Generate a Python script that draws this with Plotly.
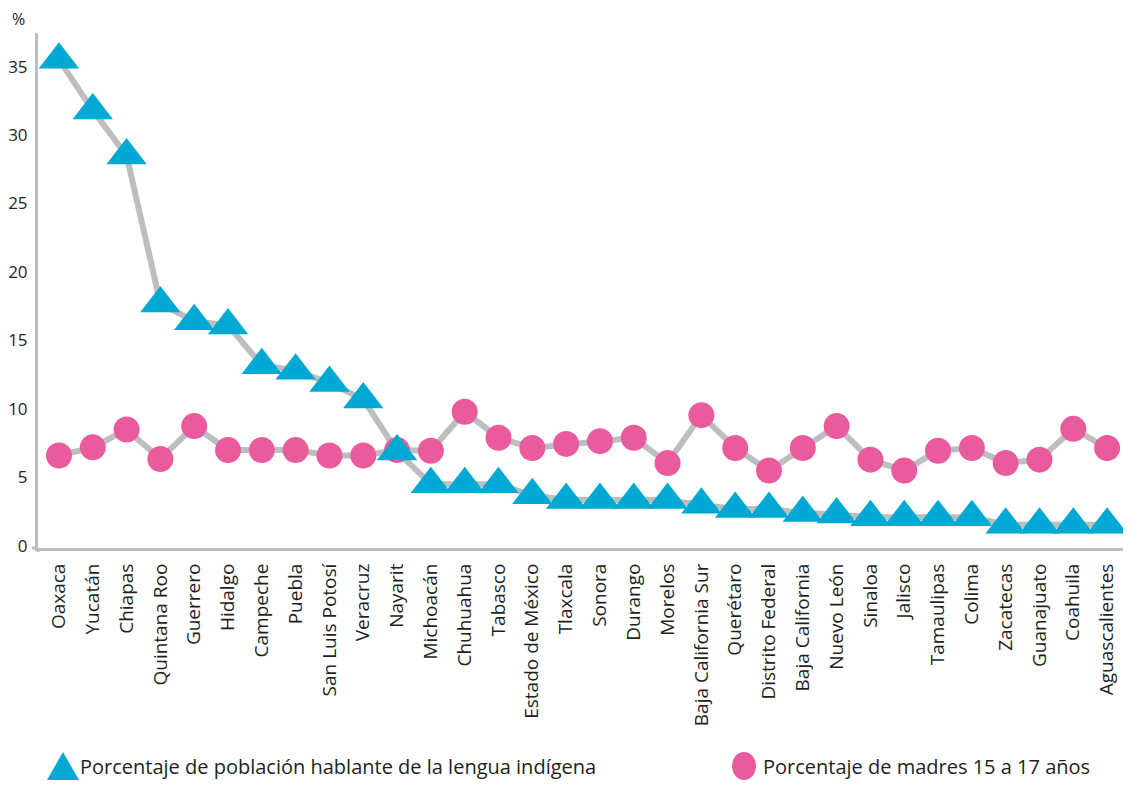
import plotly.graph_objects as go

estados = ["Oaxaca", "Yucatán", "Chiapas", "Quintana Roo", "Guerrero", "Hidalgo", "Campeche",
           "Puebla", "San Luis Potosí", "Veracruz", "Nayarit", "Michoacán", "Chuhuahua", "Tabasco",
           "Estado de México", "Tlaxcala", "Sonora", "Durango", "Morelos", "Baja California Sur",
           "Querétaro", "Distrito Federal", "Baja California", "Nuevo León", "Sinaloa", "Jalisco",
           "Tamaulipas", "Colima", "Zacatecas", "Guanajuato", "Coahuila", "Aguascalientes"]

lengua_indigena = [35.5, 31.8, 28.5, 17.7, 16.4, 16.1, 13.2, 12.8, 11.9, 10.7, 6.9, 4.5, 4.5, 4.5,
                   3.7, 3.35, 3.35, 3.35, 3.35, 3.0, 2.7, 2.7, 2.4, 2.3, 2.1, 2.1, 2.1, 2.1,
                   1.55, 1.55, 1.55, 1.55]

madres_15_17 = [6.6, 7.2, 8.5, 6.35, 8.75, 7.0, 7.0, 7.0, 6.6, 6.6, 7.0, 6.95, 9.8, 7.9,
                7.15, 7.45, 7.65, 7.9, 6.05, 9.55, 7.15, 5.5, 7.15, 8.75, 6.3, 5.5, 6.95, 7.15,
                6.05, 6.3, 8.55, 7.15]

y_ticks = [0, 5, 10, 15, 20, 25, 30, 35]

serie1 = "Porcentaje de población hablante de la lengua indígena"
serie2 = "Porcentaje de madres 15 a 17 años"

GRAY = "#BCBEC0"
BLUE = "#00A9D4"
PINK = "#EA5B9E"
TEXT = "#231F20"
FONT = "Open Sans"

fig = go.Figure()
fig.add_trace(go.Scatter(x=estados, y=lengua_indigena, mode="lines", cliponaxis=False,
                         line=dict(color=GRAY, width=6), showlegend=False, hoverinfo="skip"))
fig.add_trace(go.Scatter(x=estados, y=madres_15_17, mode="lines", cliponaxis=False,
                         line=dict(color=GRAY, width=6), showlegend=False, hoverinfo="skip"))
fig.add_trace(go.Scatter(x=estados, y=madres_15_17, mode="markers", name=serie2, cliponaxis=False,
                         marker=dict(symbol="circle", size=26, color=PINK), showlegend=False))
fig.add_trace(go.Scatter(x=estados, y=lengua_indigena, mode="markers", name=serie1, cliponaxis=False,
                         marker=dict(symbol="triangle-up", size=35, color=BLUE), showlegend=False))

# legend drawn as shapes + text
fig.add_shape(type="path", xref="paper", yref="paper", xsizemode="pixel", ysizemode="pixel",
              xanchor=0.0, yanchor=0.0, path="M 9 -232 L 41 -232 L 25 -204 Z",
              fillcolor=BLUE, line=dict(width=0))
fig.add_shape(type="circle", xref="paper", yref="paper", xsizemode="pixel", ysizemode="pixel",
              xanchor=0.0, yanchor=0.0, x0=694, x1=718, y0=-232, y1=-204,
              fillcolor=PINK, line=dict(width=0))
fig.add_annotation(xref="paper", yref="paper", x=0, y=0, xshift=40, yshift=-218,
                   xanchor="left", yanchor="middle", showarrow=False, text=serie1,
                   font=dict(family=FONT, size=20, color=TEXT))
fig.add_annotation(xref="paper", yref="paper", x=0, y=0, xshift=723, yshift=-218,
                   xanchor="left", yanchor="middle", showarrow=False, text=serie2,
                   font=dict(family=FONT, size=20, color=TEXT))
fig.add_annotation(xref="paper", yref="paper", x=0, y=1, xshift=-28, yshift=14,
                   xanchor="left", yanchor="middle", showarrow=False, text="%",
                   font=dict(family=FONT, size=16, color=TEXT))

# axis line extensions
fig.add_shape(type="line", xref="paper", yref="paper", xsizemode="pixel", ysizemode="pixel",
              xanchor=0.0, yanchor=0.0, x0=-6, x1=0, y0=0, y1=0, line=dict(color=GRAY, width=3))
fig.add_shape(type="line", xref="paper", yref="paper", xsizemode="pixel", ysizemode="pixel",
              xanchor=0.0, yanchor=0.0, x0=0, x1=0, y0=-4, y1=0, line=dict(color=GRAY, width=3))

fig.update_layout(
    width=1115, height=773,
    margin=dict(l=27, r=0, t=25, b=233),
    plot_bgcolor="white", paper_bgcolor="white",
    font=dict(family=FONT, color=TEXT),
    showlegend=False,
)
fig.update_xaxes(
    range=[-0.62, 31.47], showgrid=False, zeroline=False,
    showline=True, linecolor=GRAY, linewidth=3,
    tickangle=-90, tickfont=dict(family=FONT, size=19, color=TEXT),
    ticks="", ticklabelstandoff=5,
)
fig.update_yaxes(
    range=[-0.15, 37.45], showgrid=False, zeroline=False,
    showline=True, linecolor=GRAY, linewidth=3,
    tickvals=y_ticks, tickfont=dict(family=FONT, size=17, color=TEXT),
    ticks="", ticklabelstandoff=4,
)

fig.write_html("out.html")
